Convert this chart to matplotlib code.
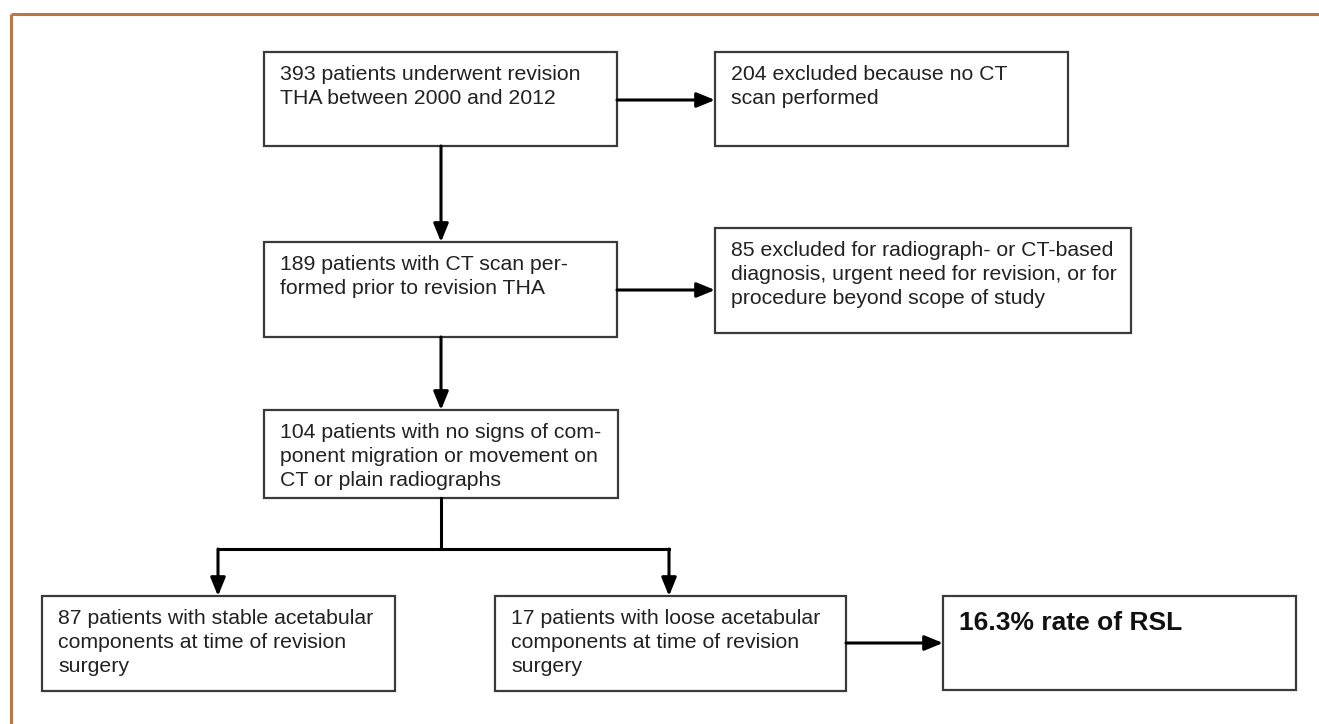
import matplotlib.pyplot as plt
from matplotlib.patches import Rectangle

# box texts of the flow chart
box_texts = [
    "393 patients underwent revision\nTHA between 2000 and 2012",
    "204 excluded because no CT\nscan performed",
    "189 patients with CT scan per-\nformed prior to revision THA",
    "85 excluded for radiograph- or CT-based\ndiagnosis, urgent need for revision, or for\nprocedure beyond scope of study",
    "104 patients with no signs of com-\nponent migration or movement on\nCT or plain radiographs",
    "87 patients with stable acetabular\ncomponents at time of revision\nsurgery",
    "17 patients with loose acetabular\ncomponents at time of revision\nsurgery",
    "16.3% rate of RSL",
]

# layout in pixels: x0, y0 (top), x1, y1 (bottom)
boxes = [
    (264, 52, 617, 146),
    (715, 52, 1068, 146),
    (264, 242, 617, 337),
    (715, 228, 1131, 333),
    (264, 410, 618, 498),
    (42, 596, 395, 691),
    (495, 596, 846, 691),
    (943, 596, 1296, 690),
]

fig = plt.figure(figsize=(13.19, 7.24), dpi=100)
ax = fig.add_axes([0, 0, 1, 1])
ax.set_xlim(0, 1319)
ax.set_ylim(724, 0)
ax.axis("off")

font = ["Liberation Sans", "DejaVu Sans"]
edge = "#3a3a3a"

# orange frame on top and left
ax.plot([10.5, 1319], [13.5, 13.5], color="#b57a48", lw=2.2, solid_capstyle="butt")
ax.plot([10.5, 10.5], [13.5, 724], color="#b57a48", lw=2.2, solid_capstyle="butt")

for i, (txt, (x0, y0, x1, y1)) in enumerate(zip(box_texts, boxes)):
    ax.add_patch(Rectangle((x0, y0), x1 - x0, y1 - y0, fill=False, ec=edge, lw=1.6))
    if i == 7:
        ax.text(x0 + 16, y0 + 27, txt, fontsize=19, fontweight="bold", family=font,
                color="#111111", va="center", ha="left")
    else:
        ax.text(x0 + 16, y0 + 13, txt, fontsize=15.3, family=font, color="#222222",
                va="top", ha="left", linespacing=1.32)

def arrow(x0, y0, x1, y1):
    ax.annotate("", xy=(x1, y1), xytext=(x0, y0),
                arrowprops=dict(arrowstyle="-|>,head_length=1.1,head_width=0.45",
                                color="black", lw=2.2, shrinkA=0, shrinkB=0))

cx = 441
arrow(617, 100, 715, 100)
arrow(cx, 146, cx, 242)
arrow(617, 290, 715, 290)
arrow(cx, 337, cx, 410)
ax.plot([cx, cx], [498, 549], color="black", lw=2.2)
ax.plot([218, 669], [549, 549], color="black", lw=2.2, solid_capstyle="projecting")
arrow(218, 549, 218, 596)
arrow(669, 549, 669, 596)
arrow(846, 643, 943, 643)

fig.savefig("out.png", dpi=100)
